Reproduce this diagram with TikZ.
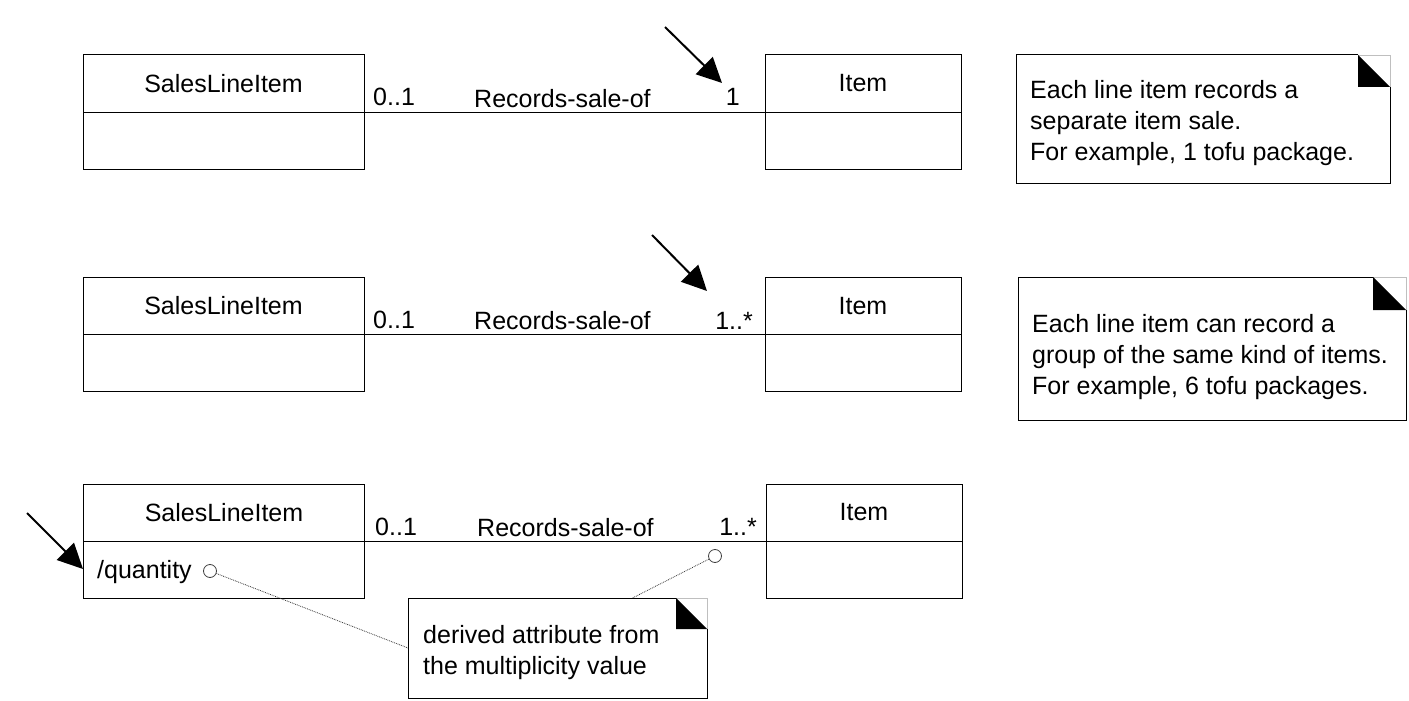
\documentclass[tikz,border=0pt]{standalone}
\usepackage{fontspec}
\setmainfont{Liberation Sans}
\usetikzlibrary{arrows.meta}
\tikzset{
  classhead/.style={draw, line width=1pt, minimum height=57pt, inner sep=0pt, outer sep=0pt},
  classbody/.style={draw, line width=1pt, minimum height=57pt, inner sep=0pt, outer sep=0pt, anchor=north},
  assoc/.style={line width=1pt},
  mult/.style={inner sep=0pt},
  pointer/.style={-{Triangle[length=25pt,width=24pt]}, line width=2pt},
  notebox/.style={inner sep=0pt, outer sep=0pt, anchor=north west},
  notetext/.style={inner sep=0pt, anchor=north west, align=left},
  tiecirc/.style={circle, draw=black!75, line width=0.8pt, minimum size=13pt, inner sep=0pt},
  notelink/.style={densely dotted, line width=0.8pt, black!80},
}
\newcommand{\notefold}[2]{%
  \draw[line width=0.6pt, black!25] ([xshift=-#2]#1.north east) -- (#1.north east) -- ([yshift=-#2]#1.north east);
  \draw[line width=1pt] ([xshift=-#2]#1.north east) -- (#1.north west) -- (#1.south west)
    -- (#1.south east) -- ([yshift=-#2]#1.north east);
  \fill ([xshift=-#2]#1.north east) -- ([xshift=-#2,yshift=-#2]#1.north east)
    -- ([yshift=-#2]#1.north east) -- cycle;
}

\begin{document}
\begin{tikzpicture}[x=1pt, y=-1pt, font=\fontsize{25}{31}\selectfont]
  \useasboundingbox (0,0) rectangle (1409,701);

  % row 1: 0..1 to 1
  \node[classhead, minimum width=281pt] (s1) at (223.5,83.5) {SalesLineItem};
  \node[classbody, minimum width=281pt] (s1b) at (s1.south) {};
  \node[classhead, minimum width=196pt] (i1) at (863,83.5) {Item};
  \node[classbody, minimum width=196pt] (i1b) at (i1.south) {};
  \draw[assoc] (s1.south east) -- (i1.south west);
  \node[mult, anchor=base west] (m1a) at (373,106) {0..1};
  \node[mult, anchor=base west] (r1) at (474,107) {Records-sale-of};
  \node[mult, anchor=base east] (m1b) at (740,106) {1};
  \coordinate (p1s) at (665,27);
  \coordinate (p1e) at (722,83);
  \draw[pointer] (p1s) -- (p1e);

  \node[notebox, minimum width=374pt, minimum height=128pt] (n1) at (1016,55) {};
  \notefold{n1}{32pt}
  \node[notetext] (n1t) at (1030,80) {Each line item records a\\separate item sale.\\For example, 1 tofu package.};

  % row 2: 0..1 to 1..*
  \node[classhead, minimum width=281pt] (s2) at (223.5,306) {SalesLineItem};
  \node[classbody, minimum width=281pt] (s2b) at (s2.south) {};
  \node[classhead, minimum width=196pt] (i2) at (863,306) {Item};
  \node[classbody, minimum width=196pt] (i2b) at (i2.south) {};
  \draw[assoc] (s2.south east) -- (i2.south west);
  \node[mult, anchor=base west] (m2a) at (373,328) {0..1};
  \node[mult, anchor=base west] (r2) at (474,329) {Records-sale-of};
  \node[mult, anchor=base east] (m2b) at (753,329) {1..*};
  \coordinate (p2s) at (652,235);
  \coordinate (p2e) at (707,291);
  \draw[pointer] (p2s) -- (p2e);

  \node[notebox, minimum width=388pt, minimum height=143pt] (n2) at (1018,277) {};
  \notefold{n2}{33pt}
  \node[notetext] (n2t) at (1032,314) {Each line item can record a\\group of the same kind of items.\\For example, 6 tofu packages.};

  % row 3: derived attribute
  \node[classhead, minimum width=281pt] (s3) at (224,512.5) {SalesLineItem};
  \node[classbody, minimum width=281pt] (s3b) at (s3.south) {};
  \node[classhead, minimum width=196pt] (i3) at (864,512.5) {Item};
  \node[classbody, minimum width=196pt] (i3b) at (i3.south) {};
  \draw[assoc] (s3.south east) -- (i3.south west);
  \node[mult, anchor=base west] (m3a) at (375,535) {0..1};
  \node[mult, anchor=base west] (r3) at (477,536) {Records-sale-of};
  \node[mult, anchor=base east] (m3b) at (757,535) {1..*};
  \node[mult, anchor=base west] (qty) at (97,578) {/quantity};
  \coordinate (p3s) at (27,513);
  \coordinate (p3e) at (83,569);
  \draw[pointer] (p3s) -- (p3e);

  \node[notebox, minimum width=299pt, minimum height=100pt] (n3) at (408,598) {};
  \notefold{n3}{31pt}
  \node[notetext] (n3t) at (423,625) {derived attribute from\\the multiplicity value};

  \node[tiecirc] (c1) at (210,571) {};
  \node[tiecirc] (c2) at (715,556) {};
  \draw[notelink] (c1) -- (n3.west);
  \draw[notelink] (c2) -- ([xshift=75pt]n3.north);
\end{tikzpicture}
\end{document}
